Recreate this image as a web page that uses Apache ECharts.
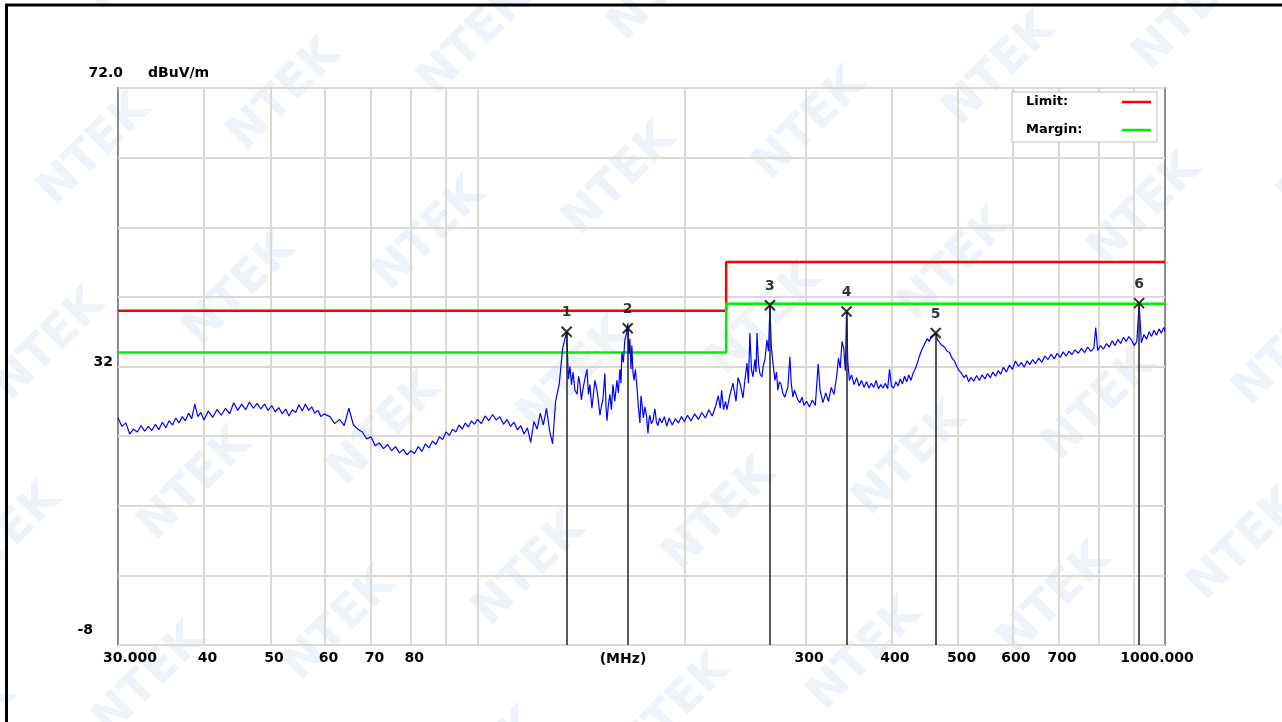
<!DOCTYPE html>
<html><head><meta charset="utf-8">
<script src="https://cdn.jsdelivr.net/npm/echarts@6/dist/echarts.min.js"></script>
<style>html,body{margin:0;padding:0;background:#fff}#c{width:1282px;height:722px}</style>
</head><body><div id="c"></div>
<script>
// ---- data ----
const xGridTicks = [40, 50, 60, 70, 80, 90, 100, 200, 300, 400, 500, 600, 700, 800, 900];
const xLabelTicks = [30, 40, 50, 60, 70, 80, 300, 400, 500, 600, 700, 1000];
const yLabelTicks = [-8, 32, 72];
const limitLine = [[30, 40], [230, 40], [230, 47], [1000, 47]];
const marginLine = [[30, 34], [230, 34], [230, 41], [1000, 41]];
const markerFreq = [134.8, 165.4, 266.3, 344.2, 464.0, 917.0];
const markerLevel = [37.0, 37.5, 40.8, 39.9, 36.8, 41.1];
const trace = [
[30.0,24.6],[30.4,23.4],[30.8,23.9],[31.2,22.3],[31.6,23.0],[32.0,22.6],[32.4,23.5],[32.8,22.7],[33.2,23.4],[33.6,22.8],
[34.0,23.7],[34.4,22.9],[34.8,24.0],[35.2,23.2],[35.6,24.2],[36.0,23.6],[36.4,24.6],[36.8,23.9],[37.2,24.8],[37.6,24.2],
[38.0,25.3],[38.4,24.5],[38.8,26.6],[39.2,24.8],[39.6,25.4],[40.0,24.3],
[40.6,25.6],[41.2,24.7],[41.8,25.8],[42.4,25.0],[43.0,26.0],[43.6,25.2],[44.2,26.8],[44.8,25.7],[45.4,26.6],[46.0,25.8],
[46.6,26.9],[47.2,26.0],[47.8,26.7],[48.4,25.9],[49.0,26.6],[49.6,25.7],[50.2,26.4],[50.8,25.5],[51.4,26.1],[52.0,25.2],
[52.6,25.9],[53.2,24.9],[53.8,25.8],[54.4,25.4],[55.0,26.5],[55.6,25.6],[56.2,26.6],[56.8,25.7],[57.4,26.2],[58.0,25.3],
[58.6,25.7],[59.2,24.8],[59.8,25.2],
[61,24.8],[62,23.8],[63,24.4],[64,23.5],[65,26.0],[66,23.6],[67,23.0],[68,22.6],[69,21.6],[70,21.9],
[71,20.6],[72,21.0],[73,20.2],[74,20.8],[75,19.9],[76,20.5],[77,19.6],[78,20.1],[79,19.3],[80,19.9],
[81,19.5],[82,20.5],[83,19.8],[84,20.9],[85,20.3],[86,21.3],[87,20.8],[88,21.9],[89,21.5],[90,22.6],
[91,22.1],[92,23.0],[93,22.6],[94,23.6],[95,23.0],[96,23.9],[97,23.3],[98,24.2],[99,23.7],[100,24.4],
[101.3,23.8],[102.6,24.9],[103.9,24.2],[105.2,25.1],[106.5,24.3],[107.8,24.8],[109.1,23.7],[110.4,24.4],[111.7,23.4],[113.0,24.0],
[114.3,22.9],[115.6,23.5],[116.9,22.3],[118.2,23.2],[119.5,21.1],[120.8,24.1],[122.1,23.0],[123.4,25.3],[124.7,23.6],[126.0,26.0],
[127.3,22.8],[128.6,20.9],[129.9,27.0],
[131.5,29.5],[133.0,34.6],[134.8,37.0],[135.6,30.2],[136.3,32.0],[137.0,29.4],[137.7,31.2],[138.6,28.6],[139.6,28.0],[140.3,30.6],
[140.9,29.6],[141.6,27.2],[142.4,28.8],[143.4,30.4],[144.3,31.6],[145.0,28.0],[145.7,29.4],[146.7,26.0],[147.5,28.2],[148.2,30.0],
[149.2,28.6],[150.0,26.8],[150.7,25.0],[151.5,26.4],[152.2,27.2],[153.2,31.0],[153.8,26.2],[154.3,24.2],[155.0,26.4],[155.8,28.0],
[156.6,25.8],[157.4,29.4],[158.4,27.0],[159.5,30.0],[160.3,28.2],[161.1,31.6],[161.7,29.6],[162.2,34.0],[163.0,32.6],[163.8,35.8],
[164.6,36.6],[165.5,38.2],[166.0,33.8],[166.6,36.0],[167.2,31.6],[167.7,35.0],[168.3,31.2],[168.9,30.0],[169.7,31.6],[170.6,29.0],
[171.4,26.2],[172.3,23.9],[172.9,27.8],[173.4,26.8],[174.3,24.6],[175.2,26.2],[176.1,25.0],[177.0,22.4],[177.6,24.4],[178.1,25.0],
[179.0,23.8],[180.0,24.2],[180.6,25.2],[181.2,25.9],[182.1,24.0],[183.0,23.5],[184.0,24.6],[185.5,23.9],[187.0,24.8],[188.5,23.4],
[190.0,24.6],[192.0,23.6],[194.0,24.5],[196.0,23.9],[198.0,24.8],[200.0,24.1],[202.0,25.0],[204.5,24.2],[207.0,25.2],[209.5,24.4],
[212.0,25.4],[214.5,24.6],[217.0,25.8],[219.5,24.9],[222.0,26.3],[224.0,27.8],[225.5,26.0],[226.5,28.6],[228.0,25.8],[229.5,27.0],
[230.6,25.8],[233.0,28.0],[235.3,29.6],[237.7,27.0],[239.3,30.4],[240.9,29.6],[243.3,27.5],[245.0,30.2],[246.6,32.5],[247.8,29.6],
[249.0,36.8],[250.3,31.6],[251.6,30.5],[253.2,33.0],[254.2,31.2],[255.0,36.8],[256.3,32.4],[257.5,31.0],[259.2,30.5],[260.5,32.2],
[261.9,33.0],[263.6,35.8],[265.0,34.2],[266.3,40.6],[267.5,35.0],[269.0,32.5],[270.8,30.0],[272.2,31.2],[273.5,28.6],[274.8,29.8],
[276.3,29.5],[278.0,28.2],[280.0,27.6],[281.4,28.4],[282.8,29.0],[284.7,33.4],[286.0,29.6],[287.6,27.6],[289.0,28.6],[290.5,28.0],
[292.5,27.2],[294.4,26.8],[296.5,27.6],[298.5,26.4],
[301,27.0],[304,26.2],[307,27.2],[310,26.4],[313,32.4],[315,28.6],[318,26.8],[321,28.2],[324,27.0],[327,29.0],
[330,28.0],[333,30.6],[335,33.2],[337,31.8],[339,35.6],[341,34.6],[342.8,31.4],[344.2,39.8],[345.6,32.8],[347.5,30.0],
[350,30.8],[353,29.4],[356,30.4],[359,29.2],[362,30.0],[365,29.0],[368,29.8],[371,28.9],[374,29.6],[377,29.0],
[380,30.0],[383,28.8],[386,29.4],[389,28.9],[392,29.6],[395,28.8],[397.5,31.6],[400,29.2],[403,28.9],[406,29.8],
[409,29.2],[412,30.2],[415,29.5],[418,30.6],[421,29.8],[424,30.8],[427,30.0],[430,31.0],[433,31.6],[436,32.4],
[439,33.4],[442,34.2],[445,34.8],[448,35.4],[451,36.0],[454,35.6],[457,36.3],[460,36.1],[464,36.7],[467,35.8],
[470,35.6],[474,35.0],[478,34.8],[482,34.2],[486,34.0],[490,33.2],[494,32.8],[498,32.0],[502,31.4],[506,31.0],
[510,30.4],[514,30.8],[518,29.8],[522,30.4],[527,29.9],[532,30.7],[537,30.0],[542,30.8],[547,30.2],[552,31.0],
[557,30.4],[562,31.2],[567,30.6],[572,31.4],[577,30.9],[582,31.9],[588,31.2],[594,32.2],[600,31.6],[606,32.8],
[612,32.0],[618,32.6],[624,31.9],[630,32.8],[636,32.3],[642,33.0],[648,32.4],[655,33.2],[662,32.6],[669,33.5],
[676,33.0],[683,33.8],[690,33.1],[697,33.9],[704,33.3],[711,34.1],[718,33.5],[725,34.2],[732,33.7],[740,34.4],
[748,33.9],[756,34.6],[764,34.0],[772,34.8],[780,34.2],[788,34.6],[793,37.6],[798,34.3],[806,35.0],[814,34.5],
[822,35.3],[830,34.8],[838,35.7],[846,35.0],[854,35.9],[862,35.3],[870,36.2],[878,35.6],[886,36.3],[894,35.8],
[902,35.0],[910,35.6],[917,41.0],[924,35.4],[932,36.6],[940,35.9],[948,37.0],[956,36.3],[964,37.2],[972,36.5],
[980,37.4],[988,36.8],[996,37.6],[1000,37.0]
];

// ---- chart ----
const FONT = 'DejaVu Sans';
const chart = echarts.init(document.getElementById('c'), null, {renderer: 'canvas'});
const gridLine = {show: true, lineStyle: {color: '#dcd9d2', width: 2}};
const boldText = {fontFamily: FONT, fontWeight: 'bold', fontSize: 14, color: '#000'};

const watermarks = [];
for (let j = -1; j <= 4; j++) {
  for (let i = -2; i <= 9; i++) {
    const cx = 95 + 190 * i - 45 * j;
    const cy = 150 - 55 * i + 195 * j;
    if (cx < -80 || cx > 1370 || cy < -80 || cy > 800) continue;
    watermarks.push({
      type: 'text', x: cx, y: cy, rotation: Math.PI / 4, z: -10, silent: true,
      style: {text: 'NTEK', font: 'bold 46px "DejaVu Sans"', fill: '#edf3f9', align: 'center', verticalAlign: 'middle'}
    });
  }
}

const markerData = markerFreq.map((f, i) => [f, markerLevel[i]]);

chart.setOption({
  backgroundColor: '#ffffff',
  animation: false,
  textStyle: {fontFamily: FONT},
  graphic: watermarks.concat([
    {type: 'line', shape: {x1: 5, y1: 5, x2: 1282, y2: 5}, style: {stroke: '#000', lineWidth: 3}, z: 10},
    {type: 'line', shape: {x1: 6.5, y1: 5, x2: 6.5, y2: 722}, style: {stroke: '#000', lineWidth: 3}, z: 10}
  ]),
  grid: {left: 118, top: 88, right: 117, bottom: 77, show: true, borderColor: '#8c8c8c', borderWidth: 2, backgroundColor: 'transparent'},
  legend: {
    orient: 'vertical', left: 1012, top: 92, selectedMode: false,
    backgroundColor: '#ffffff', borderColor: '#d6d3cc', borderWidth: 1.5, borderRadius: 0,
    padding: [2, 6, 4, 14], itemGap: 12, itemWidth: 29, itemHeight: 2.5, align: 'right',
    formatter: '{a|{name}}',
    textStyle: {fontFamily: FONT, fontWeight: 'bold', fontSize: 13, color: '#000', lineHeight: 16,
      rich: {a: {fontFamily: FONT, fontWeight: 'bold', fontSize: 13, color: '#000', width: 91, align: 'left', lineHeight: 16}}},
    data: [{name: 'Limit:', icon: 'rect'}, {name: 'Margin:', icon: 'rect'}]
  },
  xAxis: [
    {type: 'log', logBase: 10, min: 30, max: 1000, position: 'bottom',
     axisLine: {show: false}, axisTick: {show: false}, axisLabel: {show: false}, splitLine: {show: false}},
    {type: 'value', min: Math.log10(30), max: 3, position: 'bottom',
     name: '(MHz)', nameLocation: 'middle', nameGap: 7, nameMoveOverlap: false,
     nameTextStyle: Object.assign({}, boldText, {padding: [0, 37, 0, 0], verticalAlign: 'top'}),
     axisLine: {show: false},
     axisTick: {show: false, customValues: xGridTicks.map(v => Math.log10(v))},
     splitLine: gridLine,
     axisLabel: Object.assign({}, boldText, {
       customValues: xLabelTicks.map(v => Math.log10(v)), margin: 6,
       formatter: function (v) {
         const f = Math.round(Math.pow(10, v));
         if (f === 30) return '{first|30.000}';
         if (f === 1000) return '{last|1000.000}';
         return '{n|' + f + '}';
       },
       rich: {
         n: Object.assign({}, boldText, {padding: [0, 0, 0, 7]}),
         first: Object.assign({}, boldText, {padding: [0, 0, 0, 24]}),
         last: Object.assign({}, boldText, {padding: [0, 16, 0, 0]})
       }
     })}
  ],
  yAxis: {
    type: 'value', min: -8, max: 72, interval: 10,
    name: 'dBuV/m', nameLocation: 'end', nameGap: 15,
    nameTextStyle: Object.assign({}, boldText, {align: 'left', verticalAlign: 'middle', padding: [0, 0, 0, 30]}),
    axisLine: {show: false}, axisTick: {show: false},
    splitLine: gridLine,
    axisLabel: Object.assign({}, boldText, {
      margin: -5, align: 'right',
      formatter: function (v) {
        if (v === yLabelTicks[2]) return '{top|72.0}';
        if (v === yLabelTicks[1]) return '{mid|32}';
        if (v === yLabelTicks[0]) return '{bot|-8}';
        return '';
      },
      rich: {
        top: Object.assign({}, boldText, {padding: [0, 0, 30, 0]}),
        mid: Object.assign({}, boldText, {padding: [0, 10, 9, 0]}),
        bot: Object.assign({}, boldText, {padding: [0, 30, 30, 0]})
      }
    })
  },
  series: [
    {
      name: 'markerLines', type: 'scatter', xAxisIndex: 0, data: [], z: 1, silent: true,
      markLine: {
        silent: true, symbol: 'none', animation: false,
        lineStyle: {color: '#222222', width: 1.5, type: 'solid'}, label: {show: false},
        data: markerData.map(p => [{coord: [p[0], p[1]]}, {coord: [p[0], -8]}])
      }
    },
    {
      name: 'Limit:', type: 'line', xAxisIndex: 0, data: limitLine, symbol: 'none', z: 2,
      lineStyle: {color: '#ff0000', width: 2.5}, itemStyle: {color: '#ff0000'}
    },
    {
      name: 'Margin:', type: 'line', xAxisIndex: 0, data: marginLine, symbol: 'none', z: 2,
      lineStyle: {color: '#00ee00', width: 2.5}, itemStyle: {color: '#00ee00'}
    },
    {
      name: 'trace', type: 'line', xAxisIndex: 0, data: trace, symbol: 'none', z: 3,
      lineStyle: {color: '#0000ff', width: 1.2}
    },
    {
      name: 'markers', type: 'scatter', xAxisIndex: 0, data: markerData, z: 5,
      symbol: 'path://M0,0L10,10M10,0L0,10', symbolSize: 10,
      itemStyle: {color: 'rgba(0,0,0,0)', borderColor: '#000', borderWidth: 2},
      label: Object.assign({}, boldText, {
        show: true, position: 'top', distance: 6,
        formatter: p => String(p.dataIndex + 1)
      })
    }
  ]
});
</script></body></html>
